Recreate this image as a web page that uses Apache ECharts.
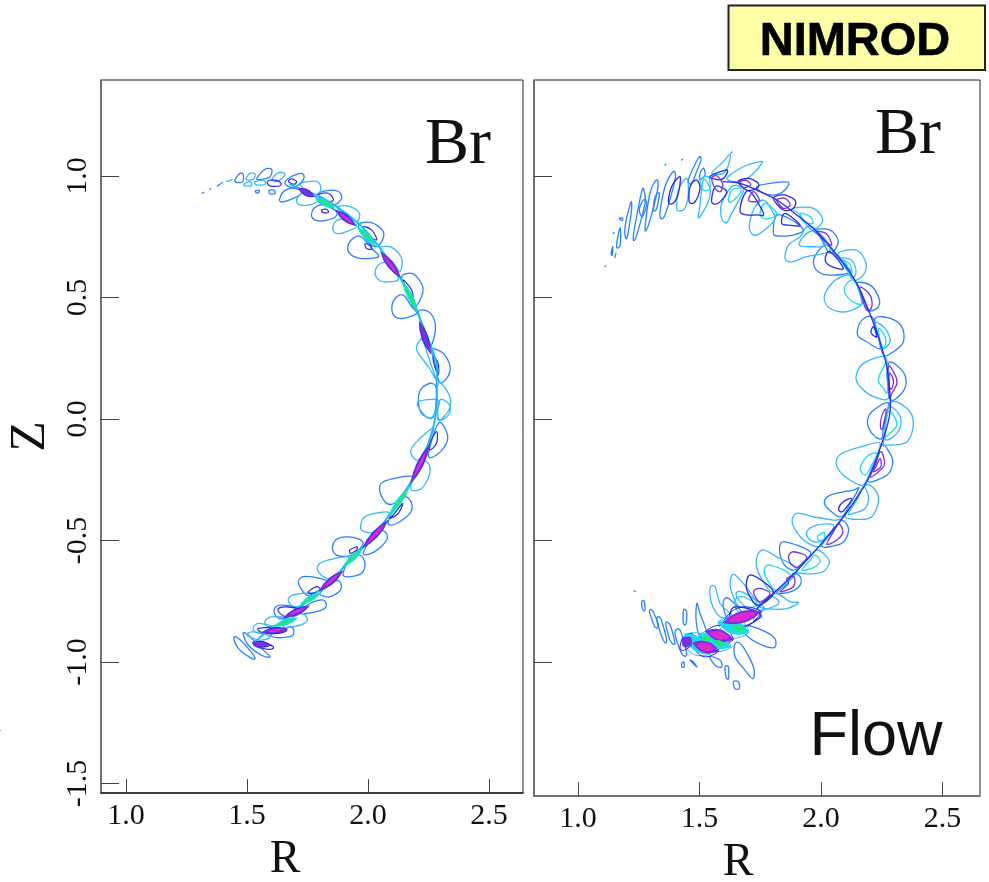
<!DOCTYPE html>
<html><head><meta charset="utf-8">
<style>html,body{margin:0;padding:0;background:#fff}#c{width:989px;height:882px}</style>
<script src="https://cdn.jsdelivr.net/npm/echarts@6/dist/echarts.min.js"></script></head>
<body><div id="c"></div>
<script>
var rTicks=[1.0,1.5,2.0,2.5];
var zTicks=[-1.5,-1.0,-0.5,0.0,0.5,1.0];
var zTicksRight=[-1.0,-0.5,0.0,0.5,1.0];
// every loop: [[R...],[Z...]]
var leftBlue=[
[[1.450,1.471,1.485,1.482,1.457],[.984,1.011,1.004,.977,.974]],
[[1.540,1.574,1.602,1.595,1.561],[.990,1.027,1.027,.997,.986]],
[[1.657,1.678,1.726,1.735,1.712,1.684],[.970,.995,1.011,.990,.963,.953]],
[[1.788,1.829,1.877,1.891,1.863,1.829,1.795],[.922,.940,.936,.908,.881,.881,.894]],
[[1.960,2.015,2.063,2.056,2.029,1.994],[.798,.808,.771,.730,.709,.737]],
[[2.139,2.187,2.226,2.215,2.187,2.160],[.586,.597,.544,.490,.462,.531]],
[[2.208,2.249,2.277,2.270,2.249,2.228],[.442,.442,.394,.325,.298,.380]],
[[2.263,2.311,2.339,2.325,2.294,2.277],[.287,.270,.215,.167,.153,.229]],
[[1.634,1.650,1.678,1.712,1.726,1.691,1.650],[.901,.935,.949,.945,.929,.908,.894]],
[[1.767,1.777,1.815,1.870,1.856,1.795],[.833,.867,.881,.853,.826,.815]],
[[1.919,1.925,1.967,2.015,2.043,1.967],[.689,.730,.753,.702,.668,.661]],
[[2.098,2.112,2.146,2.180,2.201,2.146,2.112],[.455,.496,.510,.462,.435,.414,.421]],
[[2.208,2.221,2.263,2.283,2.270,2.221],[.078,.126,.147,.119,.009,.023]],
[[2.290,2.324,2.324,2.283,2.249],[-.018,-.052,-.100,-.148,-.148]],
[[2.049,2.063,2.166,2.180,2.118,2.077],[-.299,-.258,-.235,-.251,-.340,-.347]],
[[2.152,2.180,2.173,2.118,2.083,2.111],[-.320,-.347,-.388,-.430,-.430,-.361]],
[[2.035,2.070,2.077,2.028,1.980],[-.464,-.464,-.498,-.546,-.553]],
[[1.853,1.877,1.939,1.980,1.932,1.870],[-.526,-.491,-.487,-.512,-.560,-.560]],
[[1.918,1.966,1.987,1.973,1.925,1.897],[-.587,-.560,-.594,-.635,-.649,-.642]],
[[1.856,1.884,1.886,1.842,1.801],[-.670,-.670,-.704,-.731,-.718]],
[[1.713,1.732,1.801,1.842,1.801,1.749],[-.677,-.649,-.656,-.677,-.704,-.725]],
[[1.760,1.815,1.826,1.787,1.718],[-.759,-.745,-.773,-.793,-.800]],
[[1.612,1.636,1.718,1.650,1.622],[-.786,-.766,-.780,-.821,-.814]],
[[1.601,1.677,1.694,1.677,1.615],[-.882,-.855,-.876,-.896,-.899]],
[[1.446,1.460,1.505,1.533,1.512,1.464],[-.903,-.899,-.944,-.985,-.981,-.944]],
[[1.484,1.505,1.560,1.595,1.560,1.505],[-.882,-.889,-.944,-.978,-.972,-.930]],
[[1.314,1.322],[.929,.933]],[[1.347,1.350],[.945,.947]],[[1.377,1.399],[.959,.973]],
[[1.536,1.551,1.547,1.536],[.940,.940,.931,.933]],
[[1.592,1.611,1.616,1.595],[.940,.942,.929,.926]]
];
var leftSky=[
[[1.416,1.439],[.977,.985]],
[[1.496,1.512,1.533,1.526,1.501],[.990,1.011,1.008,.986,.984]],
[[1.602,1.629,1.657,1.636,1.616],[.986,1.014,1.008,.984,.977]],
[[1.488,1.512,1.519,1.492],[.967,.977,.960,.959]],
[[1.533,1.570,1.574,1.540],[.977,.981,.966,.963]],
[[1.719,1.753,1.795,1.804,1.781],[.963,.977,.974,.942,.922]],
[[1.870,1.919,1.964,1.953,1.912],[.871,.876,.849,.812,.839]],
[[2.049,2.098,2.139,2.132,2.105],[.702,.706,.661,.606,.641]],
[[2.290,2.332,2.341,2.325,2.290],[.147,.105,.057,.023,.003]],
[[1.705,1.726,1.767,1.795,1.760,1.719],[.901,.929,.922,.901,.881,.881]],
[[1.854,1.870,1.912,1.953,1.912,1.870],[.785,.816,.822,.794,.771,.764]],
[[2.029,2.043,2.077,2.125,2.091,2.050],[.599,.634,.641,.579,.565,.569]],
[[2.201,2.215,2.228,2.263,2.283,2.249],[.284,.325,.318,.215,.160,.215]],
[[2.207,2.221,2.256,2.283,2.290],[.071,.030,.003,.037,.078]],
[[2.297,2.338,2.331,2.290],[.078,.057,.016,-.004]],
[[2.176,2.200,2.269,2.249,2.207],[-.135,-.094,-.039,-.100,-.169]],
[[2.214,2.249,2.253,2.221,2.180,2.180],[-.176,-.183,-.231,-.286,-.292,-.258]],
[[1.969,1.987,2.077,2.083,2.028,1.987],[-.450,-.402,-.382,-.402,-.464,-.464]],
[[1.790,1.815,1.918,1.897,1.856,1.815],[-.615,-.587,-.567,-.608,-.656,-.649]],
[[1.670,1.698,1.787,1.746,1.698],[-.745,-.722,-.718,-.752,-.775]],
[[1.650,1.718,1.749,1.732,1.684],[-.855,-.800,-.821,-.844,-.855]],
[[1.574,1.601,1.670,1.629,1.588],[-.834,-.814,-.821,-.844,-.855]],
[[1.526,1.546,1.622,1.567],[-.869,-.841,-.862,-.882]],
[[1.501,1.526,1.595,1.553],[-.889,-.876,-.896,-.910]]
];
var leftDark=[
[[1.584,1.609,1.639,1.634,1.595],[.977,.984,.973,.959,.959]],
[[1.671,1.684,1.705,1.694],[.977,.988,.977,.966]],
[[1.795,1.836,1.857,1.822],[.922,.929,.901,.894]],
[[1.981,2.015,2.036,1.994],[.791,.777,.737,.757]],
[[1.987,2.008,2.015,1.994],[.720,.716,.699,.702]],
[[2.146,2.180,2.184,2.160],[.572,.531,.496,.531]],
[[2.270,2.290,2.290,2.272],[.256,.229,.181,.229]],
[[1.808,1.829,1.836,1.815],[.860,.863,.850,.849]],
[[1.526,1.567,1.608,1.595,1.539],[-.917,-.917,-.937,-.948,-.937]],
[[1.546,1.615,1.663,1.629,1.567],[-.862,-.858,-.869,-.882,-.880]],
[[1.753,1.787,1.801,1.767],[-.711,-.690,-.704,-.718]],
[[1.925,1.953,1.953,1.928],[-.539,-.526,-.539,-.553]],
[[2.255,2.283,2.283,2.255],[-.100,-.052,-.100,-.128]],
[[2.104,2.143,2.125,2.090],[-.395,-.347,-.388,-.409]],
[[1.629,1.663,1.718,1.670,1.636],[-.780,-.773,-.786,-.814,-.800]]
];
var leftRidge=[[
[1.678,1.726,1.815,1.919,1.994,2.091,2.160,2.228,2.283,2.283,2.283,2.276,2.249,2.214,2.180,2.132,2.083,2.035,1.980,1.925,1.870,1.801,1.746,1.691,1.629,1.581,1.533],
[.966,.945,.908,.839,.771,.647,.531,.380,.229,.147,.078,-.004,-.100,-.183,-.258,-.334,-.402,-.464,-.526,-.581,-.642,-.704,-.752,-.800,-.844,-.876,-.917]
]];
var leftVioletBars=[[[1.712,1.780],[.950,.914]],[[1.865,1.950],[.861,.794]],[[2.050,2.135],[.690,.580]],[[2.210,2.260],[.405,.265]],[[2.175,2.255],[-.268,-.104]],[[1.975,2.085],[-.534,-.415]],[[1.795,1.898],[-.710,-.623]],[[1.650,1.760],[-.818,-.768]],[[1.560,1.670],[-.878,-.864]],[[1.520,1.600],[-.922,-.932]]];
var leftMagentaBars=[[[1.880,1.935],[.850,.805]],[[2.065,2.120],[.672,.598]],[[2.190,2.240],[-.235,-.135]],[[1.995,2.065],[-.515,-.435]],[[1.815,1.880],[-.693,-.637]],[[1.675,1.740],[-.806,-.778]],[[1.585,1.650],[-.874,-.866]]];
var leftGreenBars=[[[1.780,1.865],[.912,.866]],[[1.952,2.037],[.793,.708]],[[2.140,2.207],[.570,.440]],[[2.084,2.172],[-.403,-.278]],[[1.898,1.979],[-.607,-.533]],[[1.719,1.807],[-.763,-.714]],[[1.609,1.711],[-.855,-.818]]];

var rightBlue=[
[[2.191,2.209,2.277,2.257,2.250,2.216],[-.018,.030,.067,-.018,-.080,-.066]],
[[2.250,2.284,2.295,2.271,2.195,2.216],[-.107,-.142,-.183,-.231,-.258,-.196]],
[[2.014,2.038,2.133,2.154,2.113,2.085,2.051],[-.347,-.313,-.292,-.286,-.361,-.402,-.388]],
[[2.085,2.113,2.099,2.065,2.003,2.051],[-.416,-.450,-.498,-.519,-.523,-.457]],
[[1.829,1.852,1.955,1.928,1.886,1.845],[-.532,-.505,-.546,-.587,-.622,-.594]],
[[1.886,1.914,1.914,1.873,1.818,1.859],[-.635,-.649,-.683,-.711,-.715,-.677]],
[[1.598,1.619,1.674,1.626,1.605],[-.752,-.738,-.800,-.827,-.800]],
[[1.667,1.722,1.804,1.811,1.777,1.708],[-.855,-.855,-.896,-.937,-.937,-.903]],
[[1.646,1.674,1.722,1.719,1.687,1.646],[-.924,-.930,-1.02,-1.068,-1.033,-.978]],
[[1.262,1.272,1.276,1.266],[-.752,-.749,-.786,-.784]],
[[1.294,1.307,1.331,1.317],[-.793,-.789,-.848,-.855]],
[[1.324,1.340,1.365,1.351],[-.828,-.821,-.910,-.910]],
[[1.361,1.379,1.399,1.379],[-.841,-.848,-.923,-.910]],
[[1.399,1.420,1.447,1.427],[-.882,-.869,-.965,-.965]],
[[1.434,1.447,1.445,1.434],[-.786,-.793,-.841,-.841]],
[[1.489,1.502,1.530,1.502,1.486],[-.759,-.800,-.882,-.896,-.828]],
[[1.427,1.436,1.436,1.427],[-1.006,-.999,-1.02,-1.02]],
[[1.543,1.585,1.591,1.564],[-.978,-.992,-1.02,-1.013]],
[[1.605,1.619,1.619,1.609],[-1.02,-1.02,-1.068,-1.061]],
[[1.639,1.660,1.664,1.646],[-1.081,-1.081,-1.109,-1.109]],
[[1.461,1.475,1.489],[-.992,-1.0,-1.02]],
[[1.231,1.236],[-.707,-.710]],
[[2.222,2.284,2.332,2.339,2.298,2.257,2.236],[.414,.414,.380,.318,.277,.263,.339]],
[[2.150,2.168,2.209,2.229,2.243,2.188,2.154],[.366,.407,.421,.366,.291,.318,.339]],
[[2.277,2.332,2.350,2.325,2.284],[.229,.201,.147,.099,.085]],
[[2.147,2.202,2.236,2.236,2.195,2.167],[.561,.551,.503,.462,.448,.517]],
[[1.969,1.982,2.023,2.071,2.120,2.037,1.989],[.641,.682,.716,.661,.606,.592,.606]],
[[1.969,2.037,2.071,2.037,1.996],[.778,.778,.730,.682,.750]],
[[1.804,1.818,1.879,1.927,1.886,1.832],[.764,.839,.819,.778,.757,.753]],
[[1.735,1.790,1.866,1.845,1.811,1.763],[.956,.970,.974,.936,.922,.929]],
[[1.454,1.495,1.506,1.488,1.468],[.984,1.073,1.066,1.018,.970]],
[[1.502,1.516,1.523,1.502],[1.011,1.032,1.004,.984]],
[[1.337,1.358,1.392,1.399,1.358],[.840,.956,1.018,.984,.840]],
[[1.276,1.296,1.324,1.327,1.290],[.785,.929,.984,.942,.799]],
[[1.228,1.262,1.272,1.276,1.239],[.757,.936,.936,.888,.750]],
[[1.310,1.317,1.335,1.324],[.860,.915,.929,.867]],
[[1.193,1.214,1.221,1.217,1.200],[.785,.881,.888,.833,.743]],
[[1.159,1.170,1.175,1.173],[.709,.778,.778,.716]],
[[1.136,1.143,1.141],[.682,.709,.675]],
[[1.152,1.156],[.665,.682]],
[[1.170,1.184,1.180],[.826,.826,.816]],
[[1.111,1.114],[.627,.630]],[[1.145,1.148],[.764,.767]],[[1.358,1.361],[1.045,1.048]],[[1.427,1.430],[1.066,1.069]],[[1.630,1.633],[1.096,1.099]],
[[1.252,1.269,1.283,1.266],[.860,.901,.888,.833]]
];
var rightSky=[
[[2.284,2.353,2.380,2.353,2.271,2.257],[.064,.044,-.018,-.094,-.107,-.094]],
[[2.277,2.319,2.328,2.305,2.264],[.044,.023,-.025,-.066,-.080]],
[[2.062,2.085,2.174,2.243,2.216,2.188,2.161,2.092],[-.183,-.142,-.111,-.100,-.183,-.251,-.272,-.231]],
[[2.181,2.223,2.236,2.209,2.154,2.099,2.133],[-.272,-.292,-.340,-.402,-.413,-.402,-.347]],
[[2.174,2.195,2.181,2.133,2.113,2.147],[-.279,-.320,-.368,-.388,-.388,-.334]],
[[1.882,1.900,1.969,2.051,2.079,2.017,1.989,1.928],[-.430,-.388,-.402,-.416,-.419,-.498,-.526,-.498]],
[[1.941,1.982,2.051,2.024,1.989,1.955],[-.464,-.436,-.436,-.484,-.505,-.498]],
[[1.982,2.017,2.034,1.996,1.900,1.955],[-.539,-.560,-.594,-.633,-.628,-.567]],
[[1.733,1.756,1.818,1.900,1.811,1.763],[-.594,-.539,-.567,-.622,-.711,-.670]],
[[1.626,1.647,1.736,1.667,1.639],[-.677,-.642,-.759,-.773,-.731]],
[[1.811,1.873,1.907,1.859,1.777,1.749],[-.718,-.752,-.755,-.780,-.780,-.766]],
[[1.797,1.825,1.763,1.742],[-.731,-.759,-.786,-.773]],
[[1.543,1.564,1.585,1.639,1.585,1.550],[-.697,-.690,-.759,-.814,-.814,-.759]],
[[1.742,1.756,1.722],[-.793,-.814,-.828]],
[[1.653,1.674,1.763,1.722],[-.731,-.711,-.773,-.800]],
[[2.222,2.264,2.284,2.270,2.250],[.394,.373,.325,.298,.298]],
[[2.144,2.174,2.264,2.270,2.277,2.216,2.161],[.174,.229,.256,.174,.085,.092,.133]],
[[2.013,2.051,2.113,2.140,2.174,2.106,2.037],[.503,.565,.593,.565,.483,.442,.455]],
[[2.071,2.147,2.185,2.174,2.133,2.106],[.682,.695,.641,.593,.572,.634]],
[[2.078,2.126,2.144,2.126,2.099],[.661,.654,.606,.579,.634]],
[[1.852,1.866,1.914,1.941,1.982,2.037,1.941,1.880],[.661,.716,.750,.791,.778,.695,.668,.647]],
[[1.910,1.941,1.982,2.017,1.969],[.716,.764,.771,.716,.709]],
[[1.886,1.969,2.007,1.969,1.941,1.914],[.867,.867,.819,.778,.798,.840]],
[[1.705,1.722,1.763,1.804,1.804,1.735],[.785,.860,.901,.846,.812,.757]],
[[1.612,1.680,1.749,1.756,1.715,1.667],[.990,1.038,1.059,1.052,1.004,.977]],
[[1.591,1.591,1.632,1.667,1.680,1.632,1.612],[.826,.888,.956,.956,.936,.846,.808]],
[[1.550,1.598,1.626,1.619,1.598],[1.011,1.059,1.091,1.045,1.011]],
[[1.495,1.502,1.516,1.543,1.536,1.502],[.833,.881,.984,.949,.894,.833]],
[[1.406,1.413,1.447,1.454,1.440,1.420],[.867,.942,.990,.929,.867,.857]]
];
var rightCyan=[
[[2.277,2.305,2.312,2.291,2.264],[.030,.003,-.025,-.052,-.066]],
[[2.161,2.188,2.229,2.202,2.181],[-.203,-.155,-.142,-.203,-.231]],
[[1.985,2.013,2.013,1.996],[-.484,-.467,-.495,-.505]],
[[1.975,1.996,1.975,1.921,1.955],[-.560,-.581,-.608,-.622,-.581]],
[[1.766,1.790,1.873,1.818,1.784],[-.622,-.601,-.642,-.704,-.670]],
[[1.646,1.680,1.742,1.687,1.653],[-.745,-.731,-.773,-.800,-.786]],
[[2.236,2.264,2.264,2.250],[.373,.339,.304,.298]],
[[2.236,2.257,2.273,2.273,2.257],[.160,.215,.229,.112,.126]],
[[2.095,2.113,2.140,2.167,2.120],[.531,.565,.565,.476,.490]],
[[2.085,2.120,2.126,2.106],[.654,.634,.593,.613]],
[[1.914,1.955,1.966,1.927],[.846,.833,.805,.812]],
[[1.749,1.770,1.818,1.790,1.763],[.846,.887,.846,.826,.826]],
[[1.619,1.632,1.667,1.667,1.632],[.901,.942,.949,.929,.894]],
[[1.502,1.536,1.543,1.516],[.984,.997,.949,.942]]
];
var rightDark=[
[[2.072,2.092,2.127,2.106,2.085],[-.368,-.340,-.327,-.361,-.382]],
[[1.692,1.715,1.804,1.742,1.708],[-.683,-.642,-.711,-.766,-.731]],
[[1.626,1.646,1.722,1.749,1.680,1.626],[-.800,-.773,-.786,-.814,-.855,-.841]],
[[2.205,2.216,2.229,2.213],[.359,.380,.339,.346]],
[[2.017,2.037,2.092,2.044],[.654,.689,.620,.627]],
[[1.838,1.852,1.914,1.866],[.805,.846,.798,.798]],
[[1.804,1.845,1.893,1.886,1.845],[.908,.922,.901,.867,.860]],
[[1.667,1.680,1.708,1.763,1.735,1.694],[.853,.915,.936,.846,.840,.840]],
[[1.660,1.701,1.742,1.735,1.694],[.977,.990,.970,.949,.942]],
[[1.550,1.564,1.598,1.612,1.577],[.894,.956,.949,.929,.888]],
[[1.543,1.612,1.605,1.585],[.997,1.025,.997,.984]],
[[1.458,1.461,1.488,1.502,1.482],[.894,.956,.984,.949,.894]],
[[1.372,1.385,1.420,1.413,1.392],[.894,.956,.997,.929,.888]]
];
var rightViolet=[
[[2.246,2.257,2.268,2.257,2.246],[-.004,.030,.037,-.032,-.039]],
[[2.243,2.257,2.257,2.202,2.223],[-.135,-.155,-.196,-.240,-.190]],
[[2.243,2.246,2.216,2.229],[-.162,-.196,-.217,-.190]],
[[2.072,2.090,2.065,2.024,2.051],[-.430,-.464,-.498,-.515,-.464]],
[[1.866,1.886,1.941,1.907,1.880],[-.567,-.546,-.567,-.608,-.601]],
[[1.859,1.889,1.886,1.832,1.866],[-.656,-.649,-.690,-.711,-.677]],
[[1.722,1.749,1.790,1.749],[-.711,-.697,-.718,-.752]],
[[2.277,2.305,2.312,2.291,2.281],[.215,.181,.147,.105,.092]],
[[2.281,2.298,2.291,2.281],[.188,.160,.126,.133]],
[[2.161,2.202,2.209,2.188,2.167],[.544,.510,.462,.448,.503]],
[[1.982,2.023,2.044,2.010],[.771,.761,.716,.737]],
[[1.818,1.852,1.873,1.845],[.901,.908,.881,.867]],
[[1.701,1.722,1.746,1.722],[.901,.936,.901,.894]],
[[1.667,1.694,1.711,1.680],[.977,.981,.963,.953]],
[[1.550,1.571,1.595,1.587,1.564],[.990,1.0,.970,.936,.949]]
];
var rightRidge=[[
[1.598,1.667,1.735,1.818,1.900,1.982,2.071,2.147,2.216,2.257,2.277,2.284,2.250,2.188,2.092,1.996,1.900,1.811,1.736],
[.977,.970,.942,.901,.840,.771,.668,.558,.394,.270,.174,.030,-.100,-.258,-.402,-.519,-.625,-.711,-.780]
]];
var rightCyanBands=[[[1.575,1.705],[-.835,-.878]],[[1.500,1.630],[-.885,-.940]],[[1.440,1.545],[-.885,-.968]]];
var rightVioletBands=[[[1.595,1.755],[-.838,-.792]],[[1.525,1.640],[-.872,-.908]],[[1.470,1.580],[-.920,-.955]],[[1.428,1.468],[-.903,-.932]]];
var rightMagentaBands=[[[1.612,1.738],[-.831,-.799]],[[1.540,1.625],[-.880,-.900]],[[1.488,1.562],[-.930,-.946]]];
var rightGreenBands=[[[1.632,1.690],[-.853,-.868]],[[1.558,1.604],[-.914,-.931]],[[1.508,1.548],[-.896,-.910]]];

var C={blue:'#2a80ff',sky:'#35b8ff',cyan:'#18dcec',dark:'#2a2ae6',violet:'#7a30e0',magenta:'#e028d0',green:'#20e878'};
function idx(loops){return loops.map(function(l,i){return [l[0][0],l[1][0],i];});}
// smooth closed/open curve through the read points, placed with the axis scales
function curve(g,loops,color,w,close){return {type:'custom',coordinateSystem:'cartesian2d',xAxisIndex:g,yAxisIndex:g,data:idx(loops),silent:true,animation:false,
 renderItem:function(p,api){var l=loops[api.value(2)],n=l[0].length,P=[],i;for(i=0;i<n;i++)P.push(api.coord([l[0][i],l[1][i]]));
  function at(k){return close&&n>2?P[(k+n)%n]:P[Math.max(0,Math.min(n-1,k))];}
  var d='M'+P[0][0]+' '+P[0][1],m=close&&n>2?n:n-1;
  for(i=0;i<m;i++){var a=at(i-1),b=at(i),c=at(i+1),e=at(i+2);
   d+='C'+(b[0]+(c[0]-a[0])/6)+' '+(b[1]+(c[1]-a[1])/6)+' '+(c[0]-(e[0]-b[0])/6)+' '+(c[1]-(e[1]-b[1])/6)+' '+c[0]+' '+c[1];}
  return {type:'path',shape:{pathData:d},style:{fill:'none',stroke:color,lineWidth:w,lineCap:'round',lineJoin:'round'}};}};}
// tapered lens between the two ends of a core bar
function lens(g,bars,color,h,outline){return {type:'custom',coordinateSystem:'cartesian2d',xAxisIndex:g,yAxisIndex:g,data:idx(bars),silent:true,animation:false,
 renderItem:function(p,api){var l=bars[api.value(2)],a=api.coord([l[0][0],l[1][0]]),b=api.coord([l[0][1],l[1][1]]);
  var mx=(a[0]+b[0])/2,my=(a[1]+b[1])/2,dx=b[0]-a[0],dy=b[1]-a[1],L=Math.sqrt(dx*dx+dy*dy)||1,nx=-dy/L*h,ny=dx/L*h;
  var d='M'+a[0]+' '+a[1]+'Q'+(mx+nx)+' '+(my+ny)+' '+b[0]+' '+b[1]+'Q'+(mx-nx)+' '+(my-ny)+' '+a[0]+' '+a[1]+'Z';
  return {type:'path',shape:{pathData:d},style:outline?{fill:'none',stroke:color,lineWidth:1}:{fill:color,stroke:'none'}};}};}
var series=[
curve(0,leftBlue,C.blue,1.3,true),curve(0,leftSky,C.sky,1.3,true),curve(0,leftDark,C.dark,1.2,true),
curve(0,leftRidge,C.cyan,2,false),curve(0,leftRidge,C.blue,.6,false),
lens(0,leftGreenBars,C.cyan,6),lens(0,leftGreenBars,C.green,3),
lens(0,leftVioletBars,C.dark,7),lens(0,leftVioletBars,C.violet,5),lens(0,leftMagentaBars,C.magenta,3),
curve(1,rightBlue,C.blue,1.3,true),curve(1,rightSky,C.sky,1.3,true),curve(1,rightCyan,C.cyan,1.3,true),curve(1,rightDark,C.dark,1.3,true),curve(1,rightViolet,C.violet,1.3,true),
curve(1,rightRidge,C.dark,1.3,false),
lens(1,rightCyanBands,C.sky,22,true),lens(1,rightVioletBands,C.dark,20,true),
lens(1,rightCyanBands,C.cyan,14),lens(1,rightVioletBands,C.violet,12),
lens(1,rightMagentaBands,C.magenta,8),lens(1,rightGreenBands,C.green,6)
];
function xA(g,min,max,lc){return {gridIndex:g,type:'value',min:min,max:max,
axisLine:{show:true,onZero:false,lineStyle:{color:lc,width:1.5}},splitLine:{show:false},
axisTick:{show:true,inside:true,length:14,customValues:rTicks,lineStyle:{color:'#444',width:1}},
axisLabel:{show:true,customValues:rTicks,margin:8,fontFamily:'Liberation Serif',fontSize:30,color:'#111',formatter:function(v){return v.toFixed(1);}}};}
function yA(g,min,max,ticks,lab){return {gridIndex:g,type:'value',min:min,max:max,name:lab?'Z':'',nameLocation:'middle',nameGap:45,nameRotate:90,
nameTextStyle:{fontFamily:'Liberation Serif',fontSize:50,color:'#111'},
axisLine:{show:true,onZero:false,lineStyle:{color:'#666',width:1.5}},splitLine:{show:false},
axisTick:{show:true,inside:true,length:18,customValues:ticks,lineStyle:{color:'#444',width:1}},
axisLabel:{show:lab,customValues:ticks,rotate:90,margin:8,fontFamily:'Liberation Serif',fontSize:30,color:'#111',formatter:function(v){return v.toFixed(1);}}};}
var chart=echarts.init(document.getElementById('c'),null,{renderer:'canvas'});
chart.setOption({animation:false,backgroundColor:'#fff',
grid:[{left:101,top:80,width:422,height:713,outerBoundsMode:'none',containLabel:false,show:true,borderColor:'#222',borderWidth:1,backgroundColor:'#fff'},
{left:534,top:80,width:446,height:716,outerBoundsMode:'none',containLabel:false,show:true,borderColor:'#222',borderWidth:1,backgroundColor:'#fff'}],
xAxis:[xA(0,.897,2.64,'#222'),xA(1,.819,2.654,'#666')],
yAxis:[yA(0,-1.539,1.395,zTicks,true),yA(1,-1.551,1.395,zTicksRight,false)],
series:series,
graphic:[
{type:'rect',shape:{x:728.5,y:5.5,width:256.5,height:64.5},style:{fill:'#ffffa8',stroke:'#222',lineWidth:2},z:10},
{type:'text',x:855,y:42,style:{text:'NIMROD',fontFamily:'Liberation Sans',fontWeight:'bold',fontSize:47,fill:'#000',stroke:'#000',lineWidth:.6,align:'center',verticalAlign:'middle'},z:11},
{type:'text',x:458,y:146,style:{text:'Br',fontFamily:'Liberation Serif',fontSize:66,fill:'#111',align:'center',verticalAlign:'middle'},z:11},
{type:'text',x:908,y:136,style:{text:'Br',fontFamily:'Liberation Serif',fontSize:66,fill:'#111',align:'center',verticalAlign:'middle'},z:11},
{type:'text',x:876,y:738,style:{text:'Flow',fontFamily:'Liberation Sans',fontSize:63,fill:'#111',align:'center',verticalAlign:'middle'},z:11},
{type:'text',x:285,y:860,style:{text:'R',fontFamily:'Liberation Serif',fontSize:46,fill:'#111',align:'center',verticalAlign:'middle'},z:11},
{type:'text',x:738,y:863,style:{text:'R',fontFamily:'Liberation Serif',fontSize:46,fill:'#111',align:'center',verticalAlign:'middle'},z:11},
{type:'text',x:-5,y:730,style:{text:'4',fontFamily:'Liberation Sans',fontSize:11,fill:'#888',verticalAlign:'middle'},z:11}
]});
</script></body></html>
